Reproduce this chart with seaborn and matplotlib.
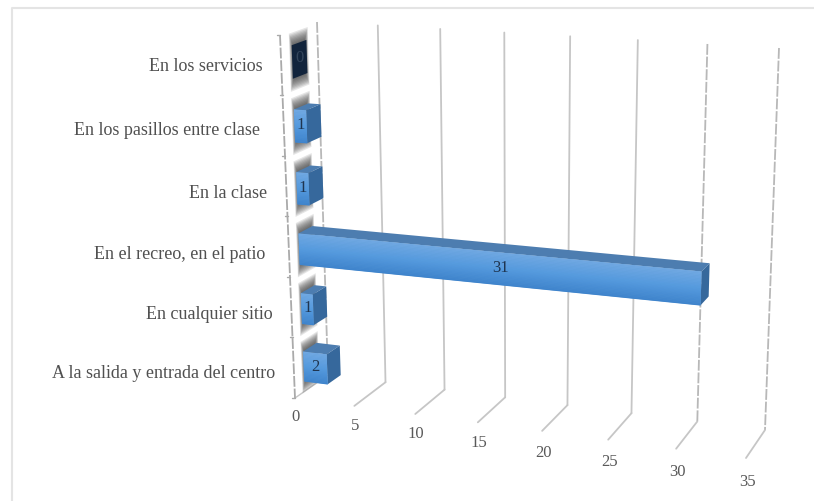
import numpy as np
import pandas as pd
import matplotlib
matplotlib.use("Agg")
import matplotlib.pyplot as plt
import seaborn as sns
from matplotlib.colors import LinearSegmentedColormap
from matplotlib.patches import Polygon, Rectangle
from matplotlib.transforms import Affine2D, Transform

places = [
    "En los servicios",
    "En los pasillos entre clase ",
    "En la clase",
    "En el recreo, en el patio ",
    "En cualquier sitio",
    "A la salida y entrada del centro",
]
counts = [0, 1, 1, 31, 1, 2]
value_ticks = [0, 5, 10, 15, 20, 25, 30, 35]
broken_ticks = [0, 30, 35]

W, H = 814, 501
VMAX = 35
ROWS = len(places)
BAR_WIDTH = 0.52
D_FRONT, D_BACK = 0.30, 0.70

# Corners of the 3D box, in pixels: (front, back) at the value-zero wall and at the far end
WALL_BOTTOM = np.array([[295, 398], [328, 375]], float)
WALL_TOP = np.array([[280, 35], [317, 22]], float)
FAR_BOTTOM = np.array([[746, 458], [765, 430]], float)
FAR_TOP = np.array([[762, 61], [779, 48]], float)
PERSPECTIVE = 0.10


def project(v, r, d, lifted=False):
    """Map value, category row and depth to pixel positions on the 3D box."""
    v, r, d = np.broadcast_arrays(np.asarray(v, float), np.asarray(r, float), np.asarray(d, float))
    s = v / VMAX
    t = (s / (1 + PERSPECTIVE * (1 - s)))[..., None]
    h = ((ROWS - 0.5 - r) / ROWS)[..., None]
    dd = d[..., None]

    def lerp_depth(c):
        return c[0] * (1 - dd) + c[1] * dd

    near = lerp_depth(WALL_BOTTOM) * (1 - h) + lerp_depth(WALL_TOP) * h
    far = lerp_depth(FAR_BOTTOM) * (1 - h) + lerp_depth(FAR_TOP) * h
    out = near * (1 - t) + far * t
    if lifted:
        # Bars sit slightly lower than the nominal rows, most of all mid-height
        drop = 8 * (1 - ((h[..., 0] - 0.4) / 0.55) ** 2)
        out = out + np.stack([np.zeros_like(drop), drop], axis=-1)
    return out


class BoxProjection(Transform):
    input_dims = 2
    output_dims = 2
    is_separable = False

    def __init__(self, box_depth, lifted=False):
        super().__init__()
        self.box_depth = box_depth
        self.lifted = lifted

    def transform_non_affine(self, values):
        values = np.asarray(values, float)
        return project(values[:, 0], values[:, 1], self.box_depth, self.lifted)


sns.set_theme(style="white")
plt.rcParams["font.family"] = ["Liberation Serif", "DejaVu Serif"]

fig = plt.figure(figsize=(W / 100, H / 100), dpi=100, facecolor="white")
ax = fig.add_axes([0, 0, 1, 1])

frame = pd.DataFrame({"lugar": places, "n": counts})
sns.barplot(data=frame, x="n", y="lugar", orient="h", width=BAR_WIDTH, color="#5b9bd5", ax=ax, saturation=1)
ax.set_xlim(0, VMAX)
ax.set_ylim(ROWS - 0.5, -0.5)
ax.set_axis_off()

pixels = Affine2D().scale(1 / W, -1 / H).translate(0, 1) + fig.transFigure
front_tf = BoxProjection(D_FRONT, lifted=True) + pixels

GRID = "#c6c6c6"
AXIS = "#aaaaaa"
TEXT = "#595959"


def pline(points, color, lw=1.3, z=1, ls="-"):
    ax.plot(points[:, 0], points[:, 1], color=color, lw=lw, ls=ls, transform=pixels, clip_on=False, zorder=z)


def pface(points, z, **kw):
    ax.add_patch(Polygon(points, closed=True, transform=pixels, clip_on=False, zorder=z, **kw))


# Page frame
fig.add_artist(plt.Line2D([12 / W, 12 / W, 1], [0, 1 - 8 / H, 1 - 8 / H], color="#e4e4e4", lw=1.5,
                          transform=fig.transFigure))

# Gridlines up the back wall, their feet on the floor, and the value labels
for v in value_ticks:
    style = (0, (6, 1)) if v in broken_ticks else "-"
    pline(project([v, v], [-0.5, ROWS - 0.5], 1.0), "#b8b8b8" if v in broken_ticks else GRID, ls=style)
    if v > 0:
        pline(project([v, v], [ROWS - 0.5, ROWS - 0.5], [0.0, 1.0]), GRID)
    else:
        pline(project([v, v], [ROWS - 0.5, ROWS - 0.5], [0.0, 1.0]), GRID, lw=1.0)
    fx, fy = project(v, ROWS - 0.5, 0.0)
    ax.text(fx + 1, fy + 19 + 0.14 * v, str(v), transform=pixels, ha="center", va="center",
            fontsize=12, color=TEXT, clip_on=False)

# Front edge of the side wall with its row ticks and category labels
pline(project([0, 0], [-0.5, ROWS - 0.5], 0.0), AXIS, ls=(0, (6, 1)))
for edge in np.arange(-0.5, ROWS):
    x0, y0 = project(0, edge, 0.0)
    pline(np.array([[x0 - 3, y0], [x0, y0]]), AXIS, lw=1.0)
for row, place in enumerate(places):
    x0, y0 = project(0, row, 0.0, lifted=True)
    ax.text(x0 - 19, y0, place, transform=pixels, ha="right", va="center",
            fontsize=13, color="#505050", clip_on=False)

front_cmap = LinearSegmentedColormap.from_list("front", ["#70a8e2", "#559ade", "#3f84cc"])
STRIPS = 24

for row, (rect, value) in enumerate(zip(ax.patches, counts)):
    y0, y1 = rect.get_y(), rect.get_y() + rect.get_height()
    w = rect.get_width()

    # Soft shadow cast on the side wall behind the bar
    for grow in np.linspace(0.17, 0.0, 9):
        a, b = y0 - grow - 0.02, y1 + grow + 0.02
        d0, d1 = D_FRONT - 0.5 * grow + 0.02, D_BACK + 0.5 * grow - 0.04
        quad = project([0, 0, 0, 0], [a, a, b, b], [d0, d1, d1, d0], lifted=True)
        pface(quad, 2, fc="#3a3a3a", ec="none", alpha=0.13)

    # Top and end faces
    top = project([0, w, w, 0], [y0, y0, y0, y0], [D_FRONT, D_FRONT, D_BACK, D_BACK], lifted=True)
    end = project([w, w, w, w], [y0, y1, y1, y0], [D_FRONT, D_FRONT, D_BACK, D_BACK], lifted=True)
    if value > 0:
        pface(top, 3, fc="#4d7db0", ec="none")
        pface(end, 3, fc="#36689c", ec="none")
    else:
        pface(end, 3, fc="#12243c", ec="none")

    # Front face shaded from top to bottom
    rect.set_transform(front_tf)
    rect.set_clip_on(False)
    rect.set_zorder(3)
    rect.set_linewidth(0)
    if value > 0:
        edges = np.linspace(y0, y1, STRIPS + 1)
        for i in range(STRIPS):
            ax.add_patch(Rectangle((0, edges[i]), w, edges[i + 1] - edges[i] + 0.005, transform=front_tf,
                                   clip_on=False, zorder=4, lw=0, fc=front_cmap(i / (STRIPS - 1))))

    # Value label centred on the front face, or on the bare end face for an empty bar
    depth = D_FRONT if value > 0 else 0.5 * (D_FRONT + D_BACK)
    lx, ly = project([0, w], [row, row], depth, lifted=True).mean(axis=0)
    ax.text(lx, ly - 1, str(value), transform=pixels, ha="center", va="center", fontsize=12,
            color="#1f3550" if value > 0 else "#34465c", clip_on=False, zorder=6)

fig.savefig("out.png", dpi=100, facecolor="white")
